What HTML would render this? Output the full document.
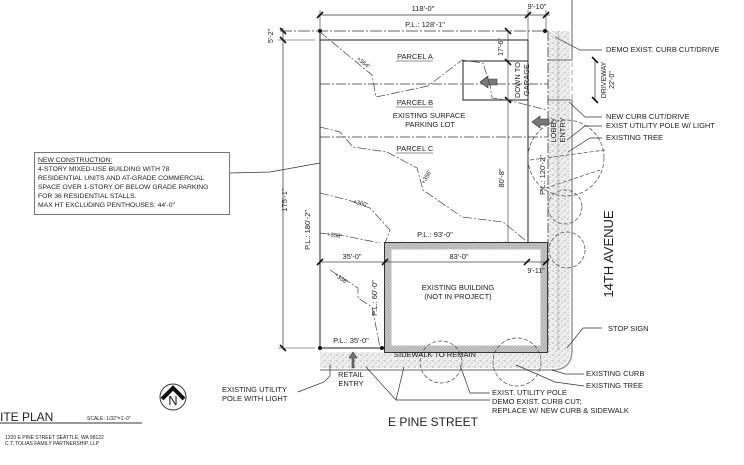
<!DOCTYPE html>
<html><head><meta charset="utf-8"><style>
html,body{margin:0;padding:0;background:#fff;}
svg{display:block;font-family:"Liberation Sans",sans-serif;}
text{fill:#222;}
</style></head><body>
<svg width="744" height="465" viewBox="0 0 744 465" xmlns="http://www.w3.org/2000/svg">
<defs>
<pattern id="dots" width="6" height="6" patternUnits="userSpaceOnUse">
<rect width="6" height="6" fill="#f0f0f0"/>
<circle cx="1" cy="1" r="0.6" fill="#888"/><circle cx="4" cy="3" r="0.6" fill="#999"/><circle cx="2" cy="5" r="0.5" fill="#aaa"/><circle cx="5" cy="0.5" r="0.4" fill="#999"/>
</pattern>
<pattern id="hatch" width="3" height="3" patternUnits="userSpaceOnUse">
<rect width="3" height="3" fill="#c8c8c8"/><path d="M0 3L3 0" stroke="#999" stroke-width="0.6"/>
</pattern>
</defs>

<!-- sidewalk east + south -->
<path d="M548 31 L570 31 L570 350 Q570 368 552 368 L320 368 L320 352 L548 352 Z" fill="url(#dots)"/>
<line x1="558" y1="31" x2="558" y2="350" stroke="#bbb" stroke-width="1"/>
<!-- curb -->
<path d="M572 0 L572 60 L548 60" fill="none" stroke="#999" stroke-width="1.5"/>
<path d="M548 100 L572 100 L572 350 Q572 370 552 370 L320 370" fill="none" stroke="#999" stroke-width="1.5"/>
<line x1="572" y1="62" x2="572" y2="100" stroke="#bbb" stroke-width="1.3" stroke-dasharray="5,3"/>
<line x1="548" y1="31" x2="548" y2="352" stroke="#333" stroke-width="0.8" stroke-dasharray="10,2,2,2"/>

<!-- top dims -->
<line x1="318" y1="15" x2="550" y2="15" stroke="#333" stroke-width="0.8"/>
<line x1="320" y1="10" x2="320" y2="31" stroke="#333" stroke-width="0.6"/>
<line x1="528" y1="10" x2="528" y2="40" stroke="#333" stroke-width="0.6"/>
<line x1="546" y1="10" x2="546" y2="31" stroke="#333" stroke-width="0.6"/>
<g stroke="#111" stroke-width="1.6"><line x1="317" y1="18" x2="323" y2="12"/><line x1="525" y1="18" x2="531" y2="12"/><line x1="543" y1="18" x2="549" y2="12"/></g>
<text x="423" y="11" font-size="7.5" text-anchor="middle">118'-0"</text>
<text x="537" y="9" font-size="7.5" text-anchor="middle">9'-10"</text>
<line x1="280" y1="31" x2="548" y2="31" stroke="#333" stroke-width="0.8" stroke-dasharray="12,2,2,2"/>
<circle cx="320" cy="31" r="2" fill="#111"/><circle cx="545" cy="31" r="2" fill="#111"/>
<text x="425" y="27" font-size="7.5" text-anchor="middle">P.L.: 128'-1"</text>
<line x1="278" y1="40" x2="315" y2="40" stroke="#333" stroke-width="0.6"/>
<line x1="283" y1="28" x2="283" y2="350" stroke="#333" stroke-width="0.7"/>
<g stroke="#111" stroke-width="1.6"><line x1="280" y1="28" x2="286" y2="34"/><line x1="280" y1="37" x2="286" y2="43"/><line x1="280" y1="345" x2="286" y2="351"/></g>
<text transform="translate(273,36) rotate(-90)" font-size="7" text-anchor="middle">5'-2"</text>
<text transform="translate(287,200) rotate(-90)" font-size="7.5" text-anchor="middle">175'-1"</text>
<line x1="278" y1="348" x2="315" y2="348" stroke="#333" stroke-width="0.6"/>

<!-- site boundary -->
<line x1="320" y1="40" x2="528" y2="40" stroke="#222" stroke-width="1"/>
<line x1="320" y1="31" x2="320" y2="350" stroke="#222" stroke-width="1"/>
<line x1="528" y1="40" x2="528" y2="245" stroke="#222" stroke-width="1"/>
<line x1="320" y1="84" x2="548" y2="84" stroke="#333" stroke-width="0.7" stroke-dasharray="10,2,2,2"/>
<line x1="320" y1="137" x2="548" y2="137" stroke="#333" stroke-width="0.7" stroke-dasharray="10,2,2,2"/>

<!-- garage -->
<polyline points="528,61 463,61 463,100 528,100" fill="none" stroke="#222" stroke-width="1"/>
<line x1="508" y1="31" x2="508" y2="245" stroke="#333" stroke-width="0.6"/>
<g stroke="#111" stroke-width="1.6"><line x1="505" y1="28" x2="511" y2="34"/><line x1="505" y1="59" x2="511" y2="65"/><line x1="505" y1="97" x2="511" y2="103"/><line x1="505" y1="242" x2="511" y2="248"/></g>
<text transform="translate(503,47) rotate(-90)" font-size="7" text-anchor="middle">17'-6"</text>
<text transform="translate(504,178) rotate(-90)" font-size="7.5" text-anchor="middle">80'-8"</text>
<text transform="translate(520,80) rotate(-90)" font-size="7.5" text-anchor="middle">DOWN TO</text>
<text transform="translate(529,80) rotate(-90)" font-size="7.5" text-anchor="middle">GARAGE</text>
<path d="M480 82 L488 76 L488 79 L497 79 L497 85 L488 85 L488 88 Z" fill="#777" stroke="#333" stroke-width="0.6"/>
<path d="M532 122 L540 116 L540 119 L549 119 L549 125 L540 125 L540 128 Z" fill="#777" stroke="#333" stroke-width="0.6"/>
<text transform="translate(556,130) rotate(-90)" font-size="7.5" text-anchor="middle">LOBBY</text>
<text transform="translate(565,130) rotate(-90)" font-size="7.5" text-anchor="middle">ENTRY</text>
<text transform="translate(545,175) rotate(-90)" font-size="7.5" text-anchor="middle">P.L.: 120'-2"</text>

<!-- contours -->
<g fill="none" stroke="#444" stroke-width="0.7" stroke-dasharray="9,2,2,2">
<polyline points="320,32 372,75 376,97 428,86 462,60 483,63 490,85 492,98 507,100 547,110"/>
<polyline points="320,127 340,132 353,147 387,152 417,168 423,190 462,217 503,222 525,240"/>
<polyline points="320,193 348,200 370,208 390,230 385,243"/>
<polyline points="320,233 345,236 380,243"/>
<polyline points="330,270 358,288 358,298 372,307 380,347"/>
</g>
<g font-size="6" text-anchor="middle">
<text transform="translate(362,64) rotate(38)">+364'</text>
<text transform="translate(428,178) rotate(-60)">+356'</text>
<text transform="translate(360,205) rotate(15)">+360'</text>
<text transform="translate(334,237) rotate(8)">+358'</text>
<text transform="translate(340,280) rotate(35)">+356'</text>
</g>
<g font-size="7.5" text-anchor="middle">
<text x="415" y="59">PARCEL A</text><line x1="396" y1="61" x2="433" y2="61" stroke="#222" stroke-width="0.6"/>
<text x="415" y="105">PARCEL B</text><line x1="396" y1="107" x2="433" y2="107" stroke="#222" stroke-width="0.6"/>
<text x="429" y="118">EXISTING SURFACE</text>
<text x="430" y="127">PARKING LOT</text>
<text x="415" y="151">PARCEL C</text><line x1="396" y1="153" x2="433" y2="153" stroke="#222" stroke-width="0.6"/>
</g>

<!-- driveway dim -->
<line x1="595" y1="60" x2="595" y2="100" stroke="#333" stroke-width="0.7"/>
<g stroke="#111" stroke-width="1.6"><line x1="592" y1="57" x2="598" y2="63"/><line x1="592" y1="97" x2="598" y2="103"/></g>
<text transform="translate(606,80) rotate(-90)" font-size="7" text-anchor="middle">DRIVEWAY</text>
<text transform="translate(614,80) rotate(-90)" font-size="7" text-anchor="middle">22'-0"</text>

<!-- existing building -->
<rect x="388" y="246" width="156" height="103" fill="none" stroke="url(#hatch)" stroke-width="7"/>
<rect x="384.5" y="242.5" width="163" height="110" fill="none" stroke="#333" stroke-width="1"/>
<text x="435" y="237" font-size="7.5" text-anchor="middle">P.L.: 93'-0"</text>
<line x1="320" y1="262" x2="548" y2="262" stroke="#444" stroke-width="0.7"/>
<g stroke="#111" stroke-width="1.6"><line x1="317" y1="265" x2="323" y2="259"/><line x1="382" y1="265" x2="388" y2="259"/><line x1="524" y1="265" x2="530" y2="259"/><line x1="543" y1="265" x2="549" y2="259"/></g>
<text x="352" y="259" font-size="7.5" text-anchor="middle">35'-0"</text>
<text x="459" y="259" font-size="7.5" text-anchor="middle">83'-0"</text>
<text x="536" y="273" font-size="7" text-anchor="middle">9'-11"</text>
<text x="458" y="290" font-size="7.5" text-anchor="middle">EXISTING BUILDING</text>
<text x="458" y="299" font-size="7.5" text-anchor="middle">(NOT IN PROJECT)</text>
<text transform="translate(310,230) rotate(-90)" font-size="7.5" text-anchor="middle">P.L.: 180'-2"</text>
<text transform="translate(377,298) rotate(-90)" font-size="7.5" text-anchor="middle">P.L.: 60'-0"</text>
<line x1="320" y1="348" x2="385" y2="348" stroke="#222" stroke-width="1"/>
<circle cx="320" cy="348" r="2" fill="#111"/><circle cx="382" cy="348" r="2" fill="#111"/>
<text x="351" y="343" font-size="7.5" text-anchor="middle">P.L.: 35'-0"</text>

<!-- trees -->
<g fill="none" stroke="#444" stroke-width="0.7" stroke-dasharray="4,2">
<circle cx="566" cy="158" r="38"/><circle cx="565" cy="207" r="17"/><circle cx="567" cy="250" r="18"/>
<circle cx="441" cy="362" r="21"/><circle cx="517" cy="362" r="24"/>
<line x1="530" y1="160" x2="605" y2="150"/><line x1="540" y1="190" x2="600" y2="170"/>
</g>

<!-- bottom -->
<text x="435" y="357" font-size="7.5" text-anchor="middle">SIDEWALK TO REMAIN</text>
<path d="M352 368 L352 358 L349 358 L353 352 L357 358 L354 358 L354 368 Z" fill="#777" stroke="#333" stroke-width="0.6"/>
<text x="351" y="377" font-size="7.5" text-anchor="middle">RETAIL</text>
<text x="351" y="386" font-size="7.5" text-anchor="middle">ENTRY</text>
<g fill="none" stroke="#333" stroke-width="0.7">
<polyline points="298,392 324,382 330,376 330,364"/>
<polyline points="366,367 396,400 404,367"/>
<polyline points="396,400 490,400"/>
<polyline points="460,365 470,393 490,393"/>
<polyline points="516,365 555,382 584,386"/>
<polyline points="552,370 565,374 584,374"/>
<polyline points="567,348 583,328 602,328"/>
<polyline points="555,37 580,50 602,50"/>
<polyline points="569,102 585,117 602,117"/>
<polyline points="567,140 585,126 602,126"/>
<polyline points="568,152 590,138 602,138"/>
<polyline points="230,173 270,172 320,163"/>
</g>
<g font-size="7.5">
<text x="606" y="52">DEMO EXIST. CURB CUT/DRIVE</text>
<text x="606" y="119">NEW CURB CUT/DRIVE</text>
<text x="606" y="128">EXIST UTILITY POLE W/ LIGHT</text>
<text x="606" y="140">EXISTING TREE</text>
<text x="608" y="331">STOP SIGN</text>
<text x="586" y="376">EXISTING CURB</text>
<text x="586" y="388">EXISTING TREE</text>
<text x="492" y="395">EXIST. UTILITY POLE</text>
<text x="492" y="404">DEMO EXIST. CURB CUT;</text>
<text x="492" y="413">REPLACE W/ NEW CURB &amp; SIDEWALK</text>
<text x="222" y="392">EXISTING  UTILITY</text>
<text x="222" y="401">POLE WITH LIGHT</text>
</g>
<text transform="translate(613,254) rotate(-90)" font-size="13" text-anchor="middle">14TH AVENUE</text>
<text x="433" y="426" font-size="12" text-anchor="middle">E PINE STREET</text>

<!-- note box -->
<rect x="34.5" y="152.5" width="195" height="62" fill="#fff" stroke="#555" stroke-width="0.8"/>
<g font-size="6.8">
<text x="38" y="162" text-decoration="underline">NEW CONSTRUCTION:</text>
<text x="38" y="171">4-STORY MIXED-USE BUILDING WITH 78</text>
<text x="38" y="180">RESIDENTIAL UNITS AND AT-GRADE COMMERCIAL</text>
<text x="38" y="189">SPACE OVER 1-STORY OF BELOW GRADE PARKING</text>
<text x="38" y="198">FOR 36 RESIDENTIAL STALLS.</text>
<text x="38" y="207">MAX HT EXCLUDING PENTHOUSES: 44'-0"</text>
</g>

<!-- north arrow -->
<circle cx="173" cy="397" r="13" fill="none" stroke="#333" stroke-width="1"/>
<polyline points="162,399 173,388 184,399" fill="none" stroke="#111" stroke-width="4"/>
<text x="173" y="405" font-size="13" text-anchor="middle" fill="#112">N</text>

<!-- title -->
<text x="0" y="421" font-size="12">ITE PLAN</text>
<line x1="0" y1="423" x2="142" y2="423" stroke="#333" stroke-width="1"/>
<text x="87" y="420" font-size="5">SCALE: 1/32"=1'-0"</text>
<text x="5" y="439" font-size="5">1320 E PINE STREET SEATTLE, WA  98122</text>
<text x="5" y="445" font-size="5">C.T. TOLIAS FAMILY PARTNERSHIP, LLP</text>
</svg>
</body></html>
